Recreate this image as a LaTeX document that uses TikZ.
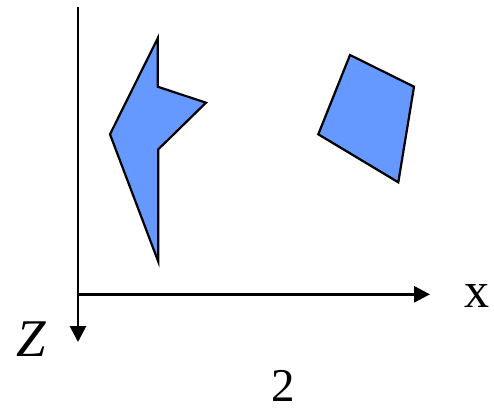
\documentclass[tikz,border=0pt]{standalone}
\usepackage{fontspec}
\setmainfont{Liberation Serif}
\usetikzlibrary{arrows.meta}
\definecolor{shapeblue}{HTML}{6699FF}
\tikzset{
  axis/.style={line width=2.8pt,-{Triangle[length=16pt,width=16pt]}},
  polyshape/.style={draw=black,line width=2.2pt,fill=shapeblue,line join=miter},
  lbl/.style={inner sep=0pt,anchor=base,font=\fontsize{50}{60}\selectfont}
}
\begin{document}
\begin{tikzpicture}[x=1pt,y=-1pt]
\useasboundingbox (0,0) rectangle (494,408);
\coordinate (o) at (78,294.3);
\coordinate (ztop) at (78,7);
\coordinate (zend) at (78,342);
\coordinate (xend) at (430,294.3);
\draw[line width=2.8pt] (ztop) -- (o);
\draw[axis] (o) -- (zend);
\draw[axis] (o) -- (xend);
\draw[polyshape] (157.7,38.3) -- (157.7,86.7) -- (206,102.7) -- (158.3,149.3) -- (158.3,261.7) -- (110,134.3) -- cycle;
\draw[polyshape] (350,55) -- (414,86.7) -- (398.3,182.3) -- (318.3,134.3) -- cycle;
\node[lbl] (xl) at (477,307) {x};
\node[lbl,font=\fontsize{53}{62}\selectfont] (zl) at (31,356) {\itshape Z};
\node[lbl,text depth=0pt,font=\fontsize{47}{56}\selectfont] (two) at (283,401) {2};
\end{tikzpicture}
\end{document}
